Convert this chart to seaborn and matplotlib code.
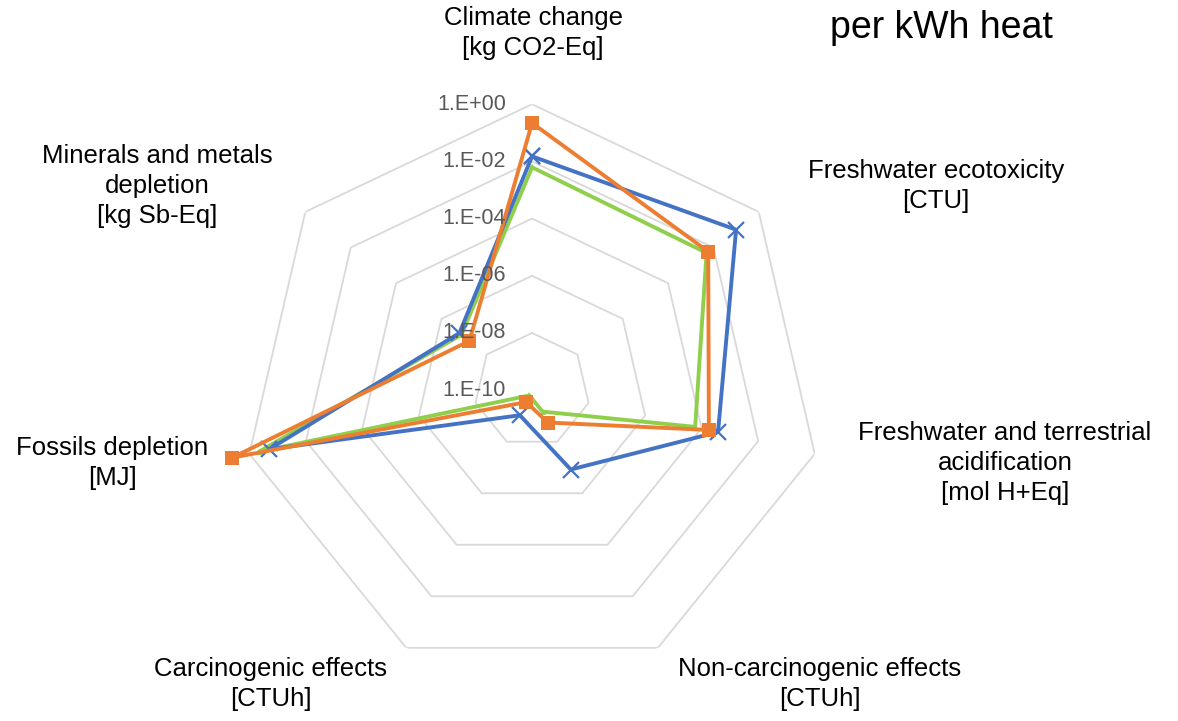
import numpy as np
import pandas as pd
import matplotlib
matplotlib.use("Agg")
import matplotlib.pyplot as plt
import seaborn as sns

# impact categories, clockwise from the top
categories = ["Climate change", "Freshwater ecotoxicity",
              "Freshwater and terrestrial acidification", "Non-carcinogenic effects",
              "Carcinogenic effects", "Fossils depletion", "Minerals and metals depletion"]
labels = ["Climate change\n[kg CO2-Eq]", "Freshwater ecotoxicity\n[CTU]",
          "Freshwater and terrestrial\nacidification\n[mol H+Eq]",
          "Non-carcinogenic effects\n[CTUh]", "Carcinogenic effects\n[CTUh]",
          "Fossils depletion\n[MJ]", "Minerals and metals\ndepletion\n[kg Sb-Eq]"]

# values per kWh heat
blue_vals = [1.5e-2, 1.0e-1, 3.8e-4, 1.2e-7, 9.4e-10, 2.0e-1, 1.6e-7]
orange_vals = [2.2e-1, 5.9e-3, 1.8e-4, 1.8e-9, 2.9e-10, 4.0e0, 5.8e-8]
green_vals = [6.2e-3, 5.0e-3, 5.9e-5, 6.8e-10, 1.6e-10, 4.5e-1, 1.3e-7]

ring_levels = [1e-8, 1e-6, 1e-4, 1e-2, 1e0]
ring_labels = ["1.E-10", "1.E-08", "1.E-06", "1.E-04", "1.E-02", "1.E+00"]

sns.set_theme(style="white")
plt.rcParams["font.family"] = ["Liberation Sans", "DejaVu Sans"]

n = len(categories)
theta = np.linspace(0, 2 * np.pi, n, endpoint=False)
theta_c = np.append(theta, theta[0])

fig = plt.figure(figsize=(11.78, 7.21), dpi=100)
ax = fig.add_axes([0.2055, 0.0622, 0.4923, 0.7933], projection="polar")
ax.set_theta_zero_location("N")
ax.set_theta_direction(-1)
ax.set_rscale("log")
ax.set_rlim(1e-10, 1)
ax.set_aspect("auto")
ax.grid(False)
ax.spines["polar"].set_visible(False)
ax.set_xticks([])
ax.set_yticks([])
ax.patch.set_alpha(0)

# heptagonal grid
for lev in ring_levels:
    ax.plot(theta_c, [lev] * (n + 1), color="#d9d9d9", lw=1.3, zorder=1)

series = [
    ("C", green_vals, "#8fcf4c", "^", 5),
    ("A", blue_vals, "#4472c4", "x", 11),
    ("B", orange_vals, "#ed7d31", "s", 10.5),
]
for i, (name, vals, col, mk, ms) in enumerate(series):
    df = pd.DataFrame({"theta": theta_c, "value": np.append(vals, vals[0])})
    sns.lineplot(data=df, x="theta", y="value", ax=ax, sort=False, estimator=None,
                 color=col, lw=2.8, marker=mk, markersize=ms, markeredgewidth=1.6 if mk == "x" else 0,
                 markeredgecolor=col, clip_on=False, zorder=3 + i)

ax.set_xlabel("")
ax.set_ylabel("")

# radial tick labels
for lev, lab in zip([1e-10] + ring_levels, ring_labels):
    ax.annotate(lab, xy=(0, lev), xytext=(-26, 0), textcoords="offset pixels",
                ha="right", va="center", color="#595959", fontsize=15.5, zorder=10)

# category labels
label_pos = [(533, 33), (936, 186), (1005, 463), (820, 684), (271, 684), (112, 463), (157, 186)]
for lab, (px, py) in zip(labels, label_pos):
    fig.text(px / 1178, 1 - py / 721, lab, ha="center", va="center",
             fontsize=18.5, color="black", linespacing=1.3)

fig.text(941 / 1178, 1 - 28 / 721, "per kWh heat", ha="center", va="center",
         fontsize=27, color="black")

fig.savefig("out.png", dpi=100)
